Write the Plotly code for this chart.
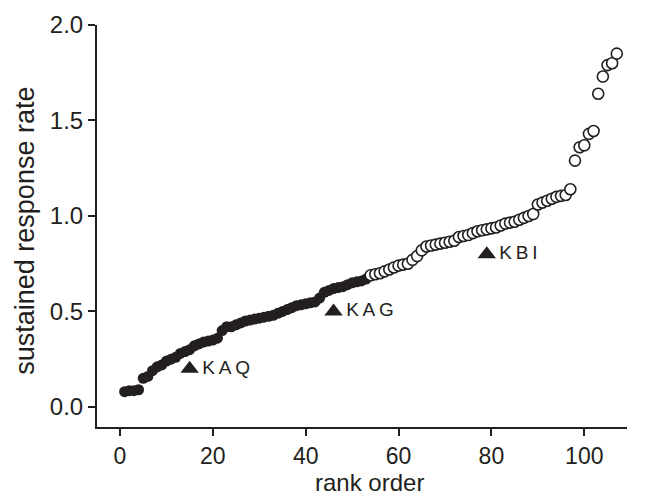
import plotly.graph_objects as go

# Sustained response rate for each item, sorted by rank
rank = list(range(1, 108))
response = [
    0.08, 0.085, 0.085, 0.09, 0.15, 0.16, 0.19, 0.21, 0.22, 0.24,
    0.25, 0.26, 0.28, 0.29, 0.30, 0.32, 0.33, 0.34, 0.345, 0.35,
    0.36, 0.40, 0.42, 0.42, 0.43, 0.44, 0.45, 0.455, 0.46, 0.465,
    0.47, 0.475, 0.48, 0.49, 0.50, 0.51, 0.52, 0.53, 0.535, 0.54,
    0.545, 0.55, 0.57, 0.60, 0.61, 0.62, 0.625, 0.63, 0.64, 0.65,
    0.655, 0.66, 0.67, 0.69, 0.695, 0.70, 0.71, 0.72, 0.73, 0.74,
    0.745, 0.75, 0.77, 0.79, 0.82, 0.84, 0.845, 0.85, 0.855, 0.86,
    0.865, 0.87, 0.89, 0.895, 0.90, 0.91, 0.92, 0.925, 0.93, 0.935,
    0.94, 0.95, 0.96, 0.965, 0.97, 0.98, 0.99, 1.00, 1.01, 1.06,
    1.07, 1.08, 1.09, 1.10, 1.105, 1.11, 1.14, 1.29, 1.36, 1.37,
    1.43, 1.445, 1.64, 1.73, 1.79, 1.80, 1.85,
]
n_filled = 53  # ranks drawn as filled circles

# Labelled reference items
ref_names = ["KAQ", "KAG", "KBI"]
ref_rank = [15, 46, 79]
ref_value = [0.2, 0.5, 0.8]

ink = "#231f20"
font_family = "Liberation Sans, Arial, sans-serif"

fig = go.Figure()
fig.add_trace(go.Scatter(
    x=rank[:n_filled], y=response[:n_filled], mode="markers",
    marker=dict(symbol="circle", size=11, color=ink, line=dict(width=0)),
    showlegend=False,
))
fig.add_trace(go.Scatter(
    x=rank[n_filled:], y=response[n_filled:], mode="markers",
    marker=dict(symbol="circle", size=11, color="white",
                line=dict(width=1.6, color=ink)),
    showlegend=False,
))
fig.add_trace(go.Scatter(
    x=ref_rank, y=ref_value, mode="markers+text",
    marker=dict(symbol="triangle-up", size=16, color=ink, line=dict(width=0)),
    text=["\u200a" + "\u2009".join(s) for s in ref_names],
    textposition="middle right",
    textfont=dict(family=font_family, size=19, color=ink),
    showlegend=False,
))

axis_common = dict(
    showgrid=False, zeroline=False, showline=True, linecolor=ink, linewidth=2,
    ticks="outside", ticklen=7, tickwidth=1.5, tickcolor=ink,
    tickfont=dict(family=font_family, size=24, color=ink),
    automargin=False,
)

fig.update_layout(
    width=654, height=496,
    margin=dict(l=97, r=27, t=25, b=69),
    paper_bgcolor="white", plot_bgcolor="white",
    xaxis=dict(range=[-4.95, 109.2], tickvals=[0, 20, 40, 60, 80, 100],
               tickfont=dict(family=font_family, size=23, color=ink),
               **{k: v for k, v in axis_common.items() if k != "tickfont"}),
    yaxis=dict(range=[-0.105, 2.0], tickvals=[0, 0.5, 1.0, 1.5, 2.0],
               tickformat=".1f", **axis_common),
    annotations=[
        dict(text="rank order", xref="paper", yref="paper",
             x=0.515, y=-0.138, xanchor="center", yanchor="middle",
             showarrow=False, borderpad=0,
             font=dict(family=font_family, size=24, color=ink)),
        dict(text="sustained response rate", xref="paper", yref="paper",
             x=-0.136, y=0.488, xanchor="center", yanchor="middle",
             textangle=-90, showarrow=False, borderpad=0,
             font=dict(family=font_family, size=27, color=ink)),
    ],
)

fig.write_html("out.html")
